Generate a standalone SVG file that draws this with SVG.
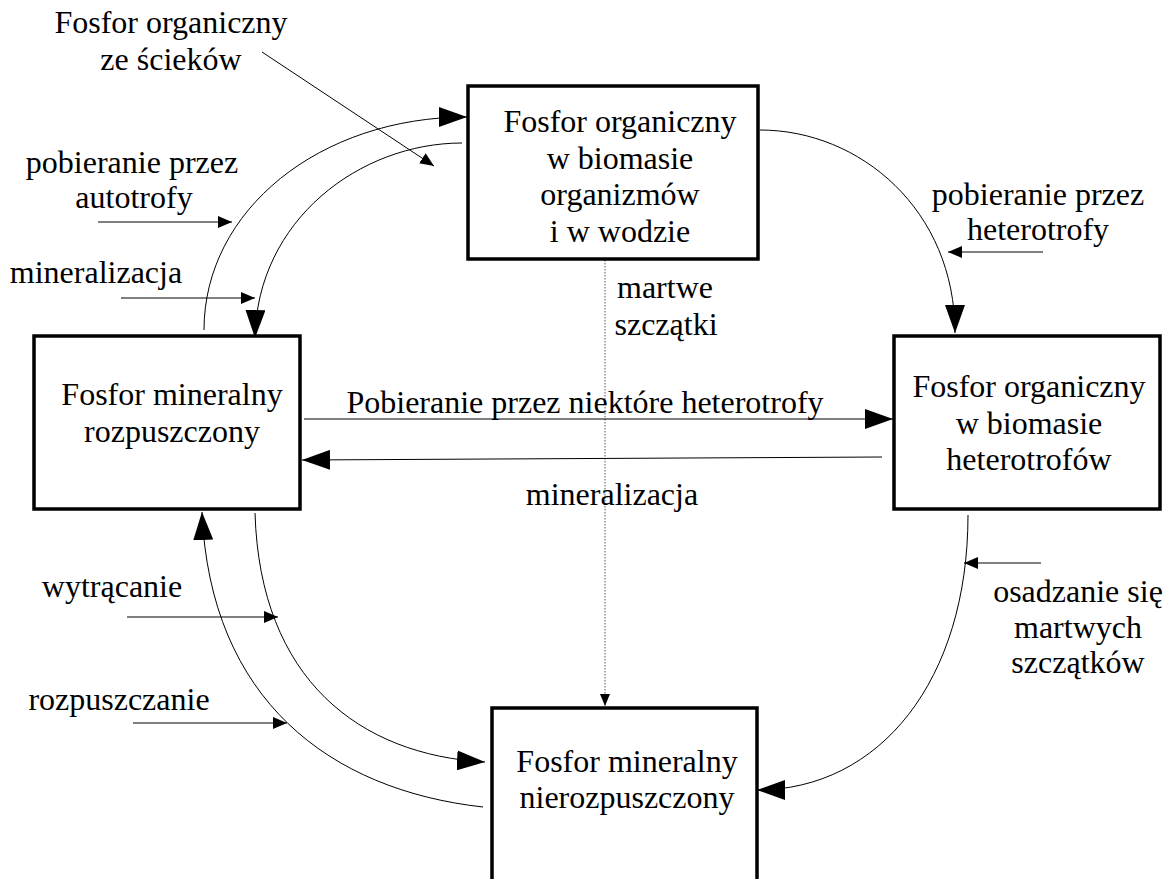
<svg xmlns="http://www.w3.org/2000/svg" width="1174" height="879" viewBox="0 0 1174 879">
<style>
text{font-family:"Liberation Serif","Times New Roman",serif;font-size:32px;fill:#000;text-anchor:middle}
.box{fill:#fff;stroke:#000;stroke-width:3.5}
.c{fill:none;stroke:#000;stroke-width:1}
.dot{fill:none;stroke:#555;stroke-width:1;stroke-dasharray:1.5 1.5}
</style>
<defs>
<marker id="big" markerUnits="userSpaceOnUse" markerWidth="28" markerHeight="20" viewBox="0 0 28 20" refX="28" refY="10" orient="auto"><path d="M0,0 L28,10 L0,20 z" fill="#000"/></marker>
<marker id="sm" markerUnits="userSpaceOnUse" markerWidth="14" markerHeight="12" viewBox="0 0 14 12" refX="14" refY="6" orient="auto"><path d="M0,0 L14,6 L0,12 z" fill="#000"/></marker>
<marker id="dm" markerUnits="userSpaceOnUse" markerWidth="12" markerHeight="10" viewBox="0 0 12 10" refX="12" refY="5" orient="auto"><path d="M0,0 L12,5 L0,10 z" fill="#000"/></marker>
</defs>
<g id="connectors">
<path class="dot" d="M605,260 L605,706" marker-end="url(#dm)"/>
<path class="c" d="M204,330 C204,210 320,117 467,117" marker-end="url(#big)"/>
<path class="c" d="M462,143 C360,143 257,220 255,338" marker-end="url(#big)"/>
<path class="c" d="M760,130 C860,130 955,210 955,333" marker-end="url(#big)"/>
<path class="c" d="M304,419 L893,419" marker-end="url(#big)"/>
<path class="c" d="M882,457 L302,460" marker-end="url(#big)"/>
<path class="c" d="M968,515 C968,680 880,790 757,790" marker-end="url(#big)"/>
<path class="c" d="M255,513 C260,680 360,755 485,762" marker-end="url(#big)"/>
<path class="c" d="M483,807 C330,790 210,700 202,512" marker-end="url(#big)"/>
<path class="c" d="M262,52 L434,166" marker-end="url(#sm)"/>
<path class="c" d="M98,222 L232,222" marker-end="url(#sm)"/>
<path class="c" d="M121,298 L255,298" marker-end="url(#sm)"/>
<path class="c" d="M1043,252 L948,252" marker-end="url(#sm)"/>
<path class="c" d="M1041,563 L964,563" stroke-width="2" marker-end="url(#sm)"/>
<path class="c" d="M127,617 L278,617" marker-end="url(#sm)"/>
<path class="c" d="M133,723 L287,723" marker-end="url(#sm)"/>
</g>
<g id="node-top">
<rect class="box" x="468" y="86" width="290" height="173"/>
<text x="620" y="132">Fosfor organiczny</text>
<text x="620" y="169">w biomasie</text>
<text x="620" y="205">organizmów</text>
<text x="620" y="242">i w wodzie</text>
</g>
<g id="node-left">
<rect class="box" x="34" y="336" width="266" height="173"/>
<text x="172" y="405">Fosfor mineralny</text>
<text x="172" y="442">rozpuszczony</text>
</g>
<g id="node-right">
<rect class="box" x="894" y="336" width="266" height="173"/>
<text x="1029" y="397">Fosfor organiczny</text>
<text x="1029" y="434">w biomasie</text>
<text x="1029" y="470">heterotrofów</text>
</g>
<g id="node-bottom">
<rect class="box" x="492" y="708" width="265" height="200"/>
<text x="627" y="772">Fosfor mineralny</text>
<text x="627" y="808">nierozpuszczony</text>
</g>
<g id="labels">
<text x="171" y="33">Fosfor organiczny</text>
<text x="171" y="70">ze ścieków</text>
<text x="132" y="173">pobieranie przez</text>
<text x="134" y="208">autotrofy</text>
<text x="96" y="283">mineralizacja</text>
<text x="1038" y="205">pobieranie przez</text>
<text x="1038" y="240">heterotrofy</text>
<text x="665" y="298">martwe</text>
<text x="666" y="335">szczątki</text>
<text x="585" y="413">Pobieranie przez niektóre heterotrofy</text>
<text x="612" y="505">mineralizacja</text>
<text x="112" y="597">wytrącanie</text>
<text x="119" y="710">rozpuszczanie</text>
<text x="1078" y="602">osadzanie się</text>
<text x="1078" y="638">martwych</text>
<text x="1078" y="673">szczątków</text>
</g>
</svg>
